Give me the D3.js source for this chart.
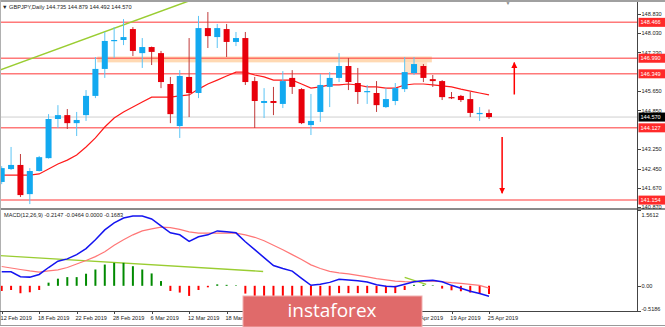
<!DOCTYPE html>
<html>
<head>
<meta charset="utf-8">
<script src="https://cdn.jsdelivr.net/npm/d3@7"></script>
<style>
  body { margin: 0; background: #fff; }
  svg { display: block; font-family: 'Liberation Sans', Arial, sans-serif; }
  .axis path, .axis line { stroke: #444; shape-rendering: crispEdges; }
  .axis text { fill: #222; font-size: 5.6px; }
</style>
</head>
<body>
<svg id="chart" width="665" height="327"></svg>
<script>
// daily bars, GBPJPY
let dates = ['12 Feb','13 Feb','14 Feb','15 Feb','18 Feb','19 Feb','20 Feb','21 Feb','22 Feb','25 Feb','26 Feb','27 Feb','28 Feb',
  '1 Mar','4 Mar','5 Mar','6 Mar','7 Mar','8 Mar','11 Mar','12 Mar','13 Mar','14 Mar','15 Mar','18 Mar','19 Mar','20 Mar','21 Mar','22 Mar','25 Mar','26 Mar','27 Mar','28 Mar','29 Mar',
  '1 Apr','2 Apr','3 Apr','4 Apr','5 Apr','8 Apr','9 Apr','10 Apr','11 Apr','12 Apr','15 Apr','16 Apr','17 Apr','18 Apr','19 Apr','22 Apr','23 Apr','24 Apr','25 Apr']
let opens = [141.90,142.43,142.60,141.40,142.35,142.88,144.49,144.65,144.32,144.65,145.44,146.55,147.70,147.74,148.19,147.20,147.45,147.20,145.93,144.20,146.22,145.56,148.23,147.86,148.19,147.66,147.82,146.05,145.15,145.23,145.11,146.18,145.72,144.24,144.78,145.81,146.18,146.67,145.97,145.60,145.56,144.98,145.23,145.72,146.38,146.67,146.13,146.05,145.39,145.44,145.31,144.69,144.735]
let highs = [142.55,143.34,143.05,142.47,142.97,144.69,145.06,144.90,144.78,145.68,147.04,148.07,148.27,148.60,148.27,147.82,147.47,147.29,146.22,146.50,147.82,148.73,148.89,148.40,148.40,148.07,148.07,146.22,145.76,145.81,146.46,146.50,145.76,145.52,146.34,146.42,147.20,147.00,146.59,145.89,146.05,145.76,145.97,147.04,147.04,146.75,146.30,146.09,145.60,145.48,145.60,144.98,144.879]
let lows = [141.81,142.39,141.28,140.99,142.33,142.86,144.12,144.08,143.79,144.41,145.35,146.18,147.00,147.53,147.08,146.59,146.71,145.76,144.32,143.71,144.57,145.35,147.41,147.41,147.04,147.49,145.89,144.12,144.53,144.65,144.94,145.52,144.28,143.83,144.37,144.98,146.01,145.68,145.11,145.11,144.78,144.94,145.06,145.60,146.30,146.01,145.81,145.27,145.31,145.19,144.57,144.41,144.492]
let closes = [142.47,142.60,141.36,142.35,142.92,144.49,144.65,144.32,144.45,145.44,146.55,147.70,147.74,147.86,147.29,147.45,147.25,146.01,144.69,146.26,145.56,148.23,147.90,148.23,147.66,147.82,146.01,145.23,145.23,145.15,146.05,145.81,144.32,144.41,145.89,146.18,146.67,146.01,145.60,145.64,145.06,145.31,145.76,146.42,146.75,146.18,146.05,145.39,145.35,145.27,144.74,144.74,144.570]
let maValues = [142.18,142.18,142.18,142.18,142.23,142.43,142.64,142.80,143.01,143.34,143.71,144.16,144.53,144.78,144.98,145.19,145.39,145.39,145.39,145.44,145.48,145.72,145.93,146.09,146.26,146.42,146.42,146.30,146.22,146.09,146.09,146.09,145.93,145.76,145.81,145.89,145.89,145.93,145.89,145.81,145.81,145.76,145.76,145.89,145.93,145.93,145.89,145.85,145.81,145.72,145.64,145.56,145.48]

// MACD panel
let macdMain = [0.289,0.289,0.188,0.179,0.234,0.377,0.506,0.555,0.642,0.765,0.948,1.152,1.295,1.397,1.437,1.437,1.376,1.233,1.091,1.050,0.913,1.009,1.050,1.131,1.111,1.091,0.907,0.744,0.581,0.418,0.357,0.302,0.153,0.010,0.031,0.071,0.133,0.118,0.102,0.077,0.020,-0.010,-0.020,0.031,0.082,0.102,0.112,0.082,0.010,-0.051,-0.112,-0.159,-0.2147]
let macdSignal = [0.398,0.367,0.336,0.306,0.283,0.306,0.330,0.377,0.449,0.520,0.601,0.703,0.836,0.948,1.050,1.131,1.172,1.207,1.197,1.162,1.111,1.085,1.085,1.085,1.085,1.085,1.050,0.999,0.928,0.836,0.744,0.642,0.540,0.432,0.357,0.296,0.265,0.245,0.214,0.183,0.149,0.122,0.096,0.086,0.082,0.102,0.096,0.084,0.065,0.051,0.031,0.010,-0.0464]
let macdHist = [-0.106,-0.086,-0.153,-0.133,-0.086,0.065,0.147,0.179,0.179,0.249,0.336,0.438,0.473,0.473,0.404,0.336,0.255,0.098,-0.106,-0.139,-0.208,-0.086,-0.031,0.03,0.02,0.01,-0.16,-0.25,-0.35,-0.42,-0.39,-0.34,-0.39,-0.42,-0.33,-0.23,-0.15,-0.15,-0.15,-0.15,-0.15,-0.15,-0.15,-0.086,0.02,0.02,0.01,-0.057,-0.092,-0.112,-0.139,-0.155,-0.1683]

// levels and axis labels
let levels = [148.466, 146.990, 146.349, 144.127, 141.154]
let lastPrice = 144.570
let priceTicks = [148.830, 148.030, 147.230, 145.650, 144.850, 143.250, 142.450, 141.670, 140.870]
let macdTicks = [1.5612, 0, -0.5186]
let macdTickLabels = ['1.5612', '0.00', '-0.5186']
// labels under the watermark (22 Mar .. 9 Apr) are not shown
let dateTickLabels = ['12 Feb','18 Feb','22 Feb','28 Feb','6 Mar','12 Mar','18 Mar','15 Apr','19 Apr','25 Apr']

// drawn annotations, in bar index / price units
let trendMain = [[-0.2, 146.50], [20.5, 149.42]]
let trendMacd1 = [[-0.2, 0.622], [27.9, 0.296]]
let trendMacd2 = [[43.0, 0.173], [45.3, 0.031]]
let zoneBand = { i0: 10.2, i1: 45.9, top: 147.06, bottom: 146.82 }
let zoneBox = { i0: 43.0, i1: 45.4, top: 146.83, bottom: 146.38 }
let arrows = [{ i: 54.7, from: 145.50, to: 146.81 }, { i: 53.4, from: 143.75, to: 141.44 }]

let bull = '#12a9f0', bear = '#e8000b'
let W = 665, H = 327, axisX = 637.5

let svg = d3.select('#chart')
let x = d3.scaleLinear().domain([0, 52]).range([1.7, 489])
let y = d3.scaleLinear().domain([140.870, 148.830]).range([207, 13.5])
let ym = d3.scaleLinear().domain([-0.5186, 1.5612]).range([311, 210])

let defs = svg.append('defs')
defs.append('clipPath').attr('id', 'clipMain').append('rect').attr('x', 0).attr('y', 2).attr('width', axisX).attr('height', 206)
defs.append('clipPath').attr('id', 'clipMacd').append('rect').attr('x', 0).attr('y', 210).attr('width', axisX).attr('height', 101)
defs.append('marker').attr('id', 'arrowHead')
  .attr('viewBox', '0 0 10 10').attr('refX', 9).attr('refY', 5)
  .attr('markerWidth', 6).attr('markerHeight', 8).attr('markerUnits', 'userSpaceOnUse')
  .attr('orient', 'auto')
  .append('path').attr('d', 'M0,0 L10,5 L0,10 z').attr('fill', '#f00')

let main = svg.append('g').attr('clip-path', 'url(#clipMain)')

// orange zone
main.append('rect')
  .attr('x', x(zoneBand.i0)).attr('width', x(zoneBand.i1) - x(zoneBand.i0))
  .attr('y', y(zoneBand.top)).attr('height', y(zoneBand.bottom) - y(zoneBand.top))
  .attr('fill', '#ffcc99').attr('opacity', 0.75)
main.append('rect')
  .attr('x', x(zoneBox.i0)).attr('width', x(zoneBox.i1) - x(zoneBox.i0))
  .attr('y', y(zoneBox.top)).attr('height', y(zoneBox.bottom) - y(zoneBox.top))
  .attr('fill', '#ffddbb').attr('opacity', 0.8)

// current price line
main.append('line').attr('x1', 0).attr('x2', axisX)
  .attr('y1', y(lastPrice)).attr('y2', y(lastPrice))
  .attr('stroke', '#cfcfcf').attr('stroke-width', 1)

// horizontal levels
main.selectAll('.level').data(levels).enter().append('line')
  .attr('x1', 0).attr('x2', axisX)
  .attr('y1', d => y(d)).attr('y2', d => y(d))
  .attr('stroke', '#ff4d4d').attr('stroke-width', 1.5).attr('opacity', 0.75)

// green trendline
main.append('line')
  .attr('x1', x(trendMain[0][0])).attr('y1', y(trendMain[0][1]))
  .attr('x2', x(trendMain[1][0])).attr('y2', y(trendMain[1][1]))
  .attr('stroke', '#9acd32').attr('stroke-width', 1.5)

// moving average
main.append('path').datum(maValues)
  .attr('fill', 'none').attr('stroke', '#ff1a1a').attr('stroke-width', 1.2)
  .attr('d', d3.line().x((d, i) => x(i)).y(d => y(d)))

// candles
let candles = dates.map((d, i) => ({ i: i, o: opens[i], h: highs[i], l: lows[i], c: closes[i] }))
let cg = main.selectAll('.candle').data(candles).enter().append('g')
cg.append('line')
  .attr('x1', d => x(d.i)).attr('x2', d => x(d.i))
  .attr('y1', d => y(d.h)).attr('y2', d => y(d.l))
  .attr('stroke', d => d.c >= d.o ? '#5cc4f5' : '#c03a3a').attr('stroke-width', 1)
cg.append('rect')
  .attr('x', d => x(d.i) - 3).attr('width', 6)
  .attr('y', d => y(Math.max(d.o, d.c)))
  .attr('height', d => Math.max(1.2, Math.abs(y(d.o) - y(d.c))))
  .attr('fill', d => d.c >= d.o ? bull : bear)

// arrows
main.selectAll('.arrow').data(arrows).enter().append('line')
  .attr('x1', d => x(d.i)).attr('x2', d => x(d.i))
  .attr('y1', d => y(d.from)).attr('y2', d => y(d.to))
  .attr('stroke', '#f00').attr('stroke-width', 1.5)
  .attr('marker-end', 'url(#arrowHead)')

// MACD panel
let macd = svg.append('g').attr('clip-path', 'url(#clipMacd)')
macd.append('line')
  .attr('x1', x(trendMacd1[0][0])).attr('y1', ym(trendMacd1[0][1]))
  .attr('x2', x(trendMacd1[1][0])).attr('y2', ym(trendMacd1[1][1]))
  .attr('stroke', '#9acd32').attr('stroke-width', 1.4)
macd.append('line')
  .attr('x1', x(trendMacd2[0][0])).attr('y1', ym(trendMacd2[0][1]))
  .attr('x2', x(trendMacd2[1][0])).attr('y2', ym(trendMacd2[1][1]))
  .attr('stroke', '#9acd32').attr('stroke-width', 1.4)
macd.selectAll('.hist').data(macdHist).enter().append('line')
  .attr('x1', (d, i) => x(i)).attr('x2', (d, i) => x(i))
  .attr('y1', ym(0)).attr('y2', d => ym(d))
  .attr('stroke', d => d >= 0 ? '#008a00' : '#ff0000').attr('stroke-width', 2)
macd.append('path').datum(macdSignal)
  .attr('fill', 'none').attr('stroke', '#ff7777').attr('stroke-width', 1.2)
  .attr('d', d3.line().x((d, i) => x(i)).y(d => ym(d)))
macd.append('path').datum(macdMain)
  .attr('fill', 'none').attr('stroke', '#1414f0').attr('stroke-width', 1.5)
  .attr('d', d3.line().x((d, i) => x(i)).y(d => ym(d)))

// frames
svg.append('rect').attr('x', 0).attr('y', 0).attr('width', W).attr('height', 2).attr('fill', '#a0a0a0')
svg.append('rect').attr('x', 0).attr('y', 208).attr('width', W).attr('height', 2).attr('fill', '#8a8a8a')
svg.append('line').attr('x1', 0.5).attr('x2', 0.5).attr('y1', 0).attr('y2', 325).attr('stroke', '#b0b0b0')
svg.append('line').attr('x1', axisX).attr('x2', axisX).attr('y1', 2).attr('y2', 311).attr('stroke', '#444')
svg.append('line').attr('x1', 0).attr('x2', W).attr('y1', 325.5).attr('y2', 325.5).attr('stroke', '#999')

// price axis
let yAxis = svg.append('g').attr('class', 'axis').attr('transform', 'translate(' + axisX + ',0)')
  .call(d3.axisRight(y).tickValues(priceTicks).tickSize(3).tickPadding(1).tickFormat(d3.format('.3f')))
yAxis.select('.domain').remove()

// level boxes
let boxes = levels.map(v => ({ v: v, fill: '#ff2a2a' })).concat([{ v: lastPrice, fill: '#000' }])
let bg = svg.selectAll('.pbox').data(boxes).enter().append('g')
bg.append('rect').attr('x', axisX + 1).attr('width', W - axisX - 1)
  .attr('y', d => y(d.v) - 4.5).attr('height', 9).attr('fill', d => d.fill)
bg.append('text').attr('x', axisX + 3).attr('y', d => y(d.v) + 2)
  .attr('fill', '#fff').attr('font-size', '5.6px').text(d => d.v.toFixed(3))

// macd axis
let mAxis = svg.append('g').attr('class', 'axis').attr('transform', 'translate(' + axisX + ',0)')
  .call(d3.axisRight(ym).tickValues(macdTicks).tickSize(3).tickPadding(1).tickFormat((d, i) => macdTickLabels[i]))
mAxis.select('.domain').remove()
mAxis.selectAll('.tick text').attr('dy', (d, i) => i == 0 ? '1.1em' : (i == 2 ? '-0.1em' : '0.32em'))

// date axis
let dateTicks = dateTickLabels.map(d => dates.indexOf(d))
let xAxis = svg.append('g').attr('class', 'axis').attr('transform', 'translate(0,311)')
  .call(d3.axisBottom(x).tickValues(dateTicks).tickSize(3).tickPadding(2).tickFormat(d => dates[d] + ' 2019'))
xAxis.select('.domain').attr('d', 'M0,0.5H' + axisX)
xAxis.selectAll('.tick text').attr('text-anchor', 'start').attr('dx', '-0.3em')

// titles
svg.append('text').attr('x', 2).attr('y', 8.5).attr('font-size', '5.6px').attr('fill', '#222')
  .text('\u25BC GBPJPY,Daily  144.735 144.879 144.492 144.570')
svg.append('text').attr('x', 4).attr('y', 217).attr('font-size', '5.6px').attr('fill', '#222')
  .text('MACD(12,26,9) -0.2147 -0.0464 0.0000 -0.1683')
svg.append('text').attr('x', 508).attr('y', 5).attr('font-size', '5px').attr('fill', '#888')
  .attr('text-anchor', 'middle').text('\u25BC')

// watermark
let logo = svg.append('g')
logo.append('rect').attr('x', 243).attr('y', 296).attr('width', 179).attr('height', 31)
  .attr('fill', '#e06a6a').attr('stroke', '#f2b0b0').attr('stroke-width', 1)
logo.append('text').attr('x', 332).attr('y', 317).attr('text-anchor', 'middle')
  .attr('font-family', "'Open Sans', 'Liberation Sans', sans-serif").attr('font-size', '19px')
  .attr('fill', '#fff').text('instaforex')
</script>
</body>
</html>
